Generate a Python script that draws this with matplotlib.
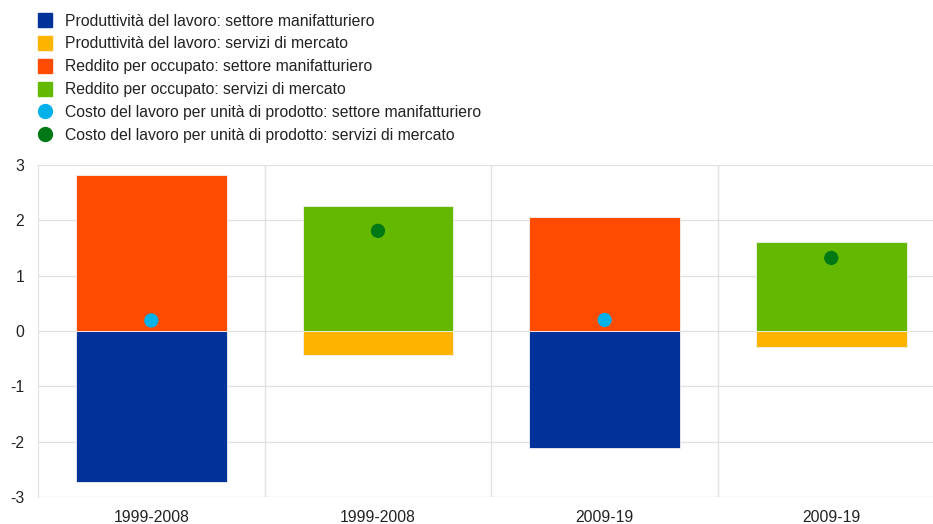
import matplotlib.pyplot as plt
from matplotlib.lines import Line2D
import numpy as np

plt.rcParams["font.family"] = ["Liberation Sans", "DejaVu Sans"]
plt.rcParams["axes.unicode_minus"] = False

# periods on the x axis and the sector each bar belongs to
periods = ["1999-2008", "1999-2008", "2009-19", "2009-19"]
sectors = ["manuf", "services", "manuf", "services"]

# average annual growth, percentage points
productivity = [-2.73, -0.43, -2.12, -0.29]
income_per_worker = [2.82, 2.26, 2.06, 1.61]
unit_labour_cost = [0.19, 1.81, 0.20, 1.32]

legend_labels = [
    "Produttività del lavoro: settore manifatturiero",
    "Produttività del lavoro: servizi di mercato",
    "Reddito per occupato: settore manifatturiero",
    "Reddito per occupato: servizi di mercato",
    "Costo del lavoro per unità di prodotto: settore manifatturiero",
    "Costo del lavoro per unità di prodotto: servizi di mercato",
]

COLORS = {
    "manuf": {"prod": "#003299", "income": "#FF4B00", "ulc": "#00B1EA"},
    "services": {"prod": "#FFB400", "income": "#65B800", "ulc": "#007816"},
}
GRID = "#e1e1e1"
FONT_SIZE = 11.3

fig = plt.figure(figsize=(9.33, 5.24), dpi=100)
ax = fig.add_axes([38 / 933, 1 - 497 / 524, 906.6 / 933, 332 / 524])

x = np.arange(len(periods))
prod_colors = [COLORS[s]["prod"] for s in sectors]
income_colors = [COLORS[s]["income"] for s in sectors]
ulc_colors = [COLORS[s]["ulc"] for s in sectors]

ax.bar(x, productivity, width=0.665, color=prod_colors,
       edgecolor="#f2f2f2", linewidth=0.6, zorder=2)
ax.bar(x, income_per_worker, width=0.665, color=income_colors,
       edgecolor="#f2f2f2", linewidth=0.6, zorder=2)
ax.scatter(x, unit_labour_cost, s=105, color=ulc_colors, zorder=3,
           linewidths=0)

ax.set_xlim(-0.5, len(periods) - 0.5)
ax.set_ylim(-3, 3)
ax.set_yticks(range(-3, 4))
ax.set_xticks(x)
ax.set_xticklabels(periods)

# light separators between the period groups
for b in np.arange(0.5, len(periods) - 0.5, 1):
    ax.axvline(b, color=GRID, linewidth=1, zorder=0)
ax.yaxis.grid(True, color=GRID, linewidth=1, zorder=0)
ax.set_axisbelow(True)

for side in ["top", "right", "bottom"]:
    ax.spines[side].set_visible(False)
ax.spines["left"].set_color(GRID)
ax.tick_params(axis="both", length=0, labelsize=FONT_SIZE, colors="#222222")
ax.tick_params(axis="y", pad=10)
ax.tick_params(axis="x", pad=9)

handles = [
    Line2D([], [], marker="s", linestyle="", markersize=10,
           color=COLORS["manuf"]["prod"]),
    Line2D([], [], marker="s", linestyle="", markersize=10,
           color=COLORS["services"]["prod"]),
    Line2D([], [], marker="s", linestyle="", markersize=10,
           color=COLORS["manuf"]["income"]),
    Line2D([], [], marker="s", linestyle="", markersize=10,
           color=COLORS["services"]["income"]),
    Line2D([], [], marker="o", linestyle="", markersize=10,
           color=COLORS["manuf"]["ulc"]),
    Line2D([], [], marker="o", linestyle="", markersize=10,
           color=COLORS["services"]["ulc"]),
]
fig.legend(handles, legend_labels, loc="upper left",
           bbox_to_anchor=(37 / 933, 1 - 13.5 / 524), frameon=False,
           fontsize=FONT_SIZE, labelspacing=0.5, handlelength=1.0,
           handletextpad=0.78, borderpad=0, borderaxespad=0,
           labelcolor="#222222")

fig.savefig("out.png", dpi=100)
